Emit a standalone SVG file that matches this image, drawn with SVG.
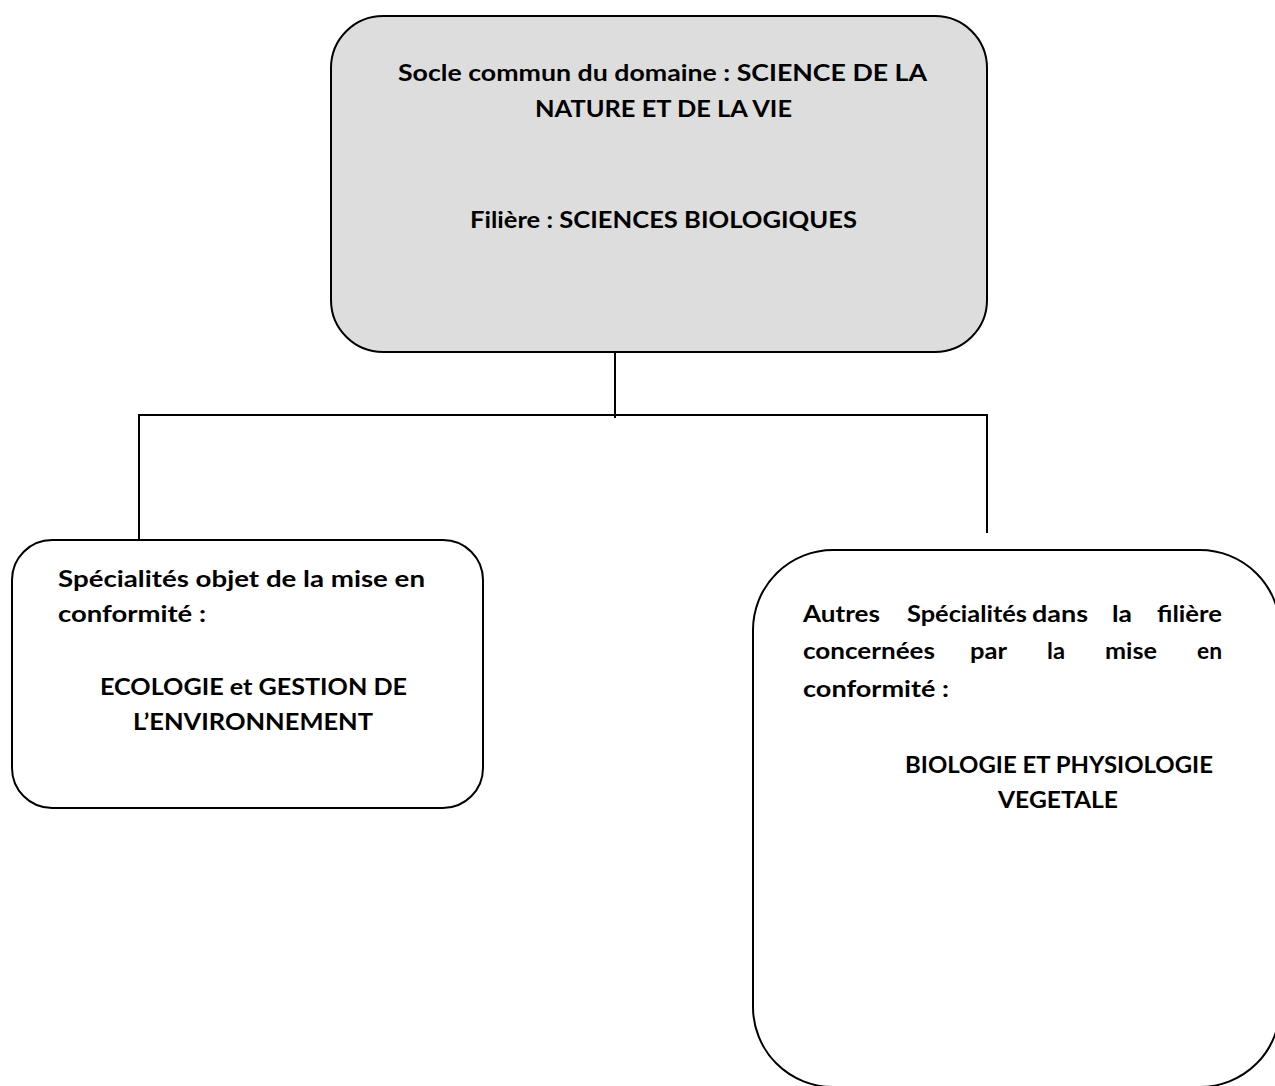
<svg xmlns="http://www.w3.org/2000/svg" width="1275" height="1086" viewBox="0 0 1275 1086">
<style>
.box{stroke:#000;stroke-width:2;}
.t{font-family:Lato,"Liberation Sans",sans-serif;font-weight:bold;font-size:22.5px;fill:#000;}
.ln{stroke:#000;stroke-width:2;fill:none;}
</style>
<rect width="1275" height="1086" fill="#fff"/>
<g id="connectors">
<line class="ln" x1="615" y1="353" x2="615" y2="418"/>
<line class="ln" x1="138" y1="415" x2="988" y2="415"/>
<line class="ln" x1="139" y1="414" x2="139" y2="545"/>
<line class="ln" x1="987" y1="414" x2="987" y2="533"/>
</g>
<g id="node-socle">
<rect class="box" x="331" y="16" width="656" height="336" rx="52" ry="52" fill="#dddddd"/>
<text class="t" x="398" y="81" textLength="529" lengthAdjust="spacingAndGlyphs">Socle commun du domaine : SCIENCE DE LA</text>
<text class="t" x="535" y="117" textLength="257" lengthAdjust="spacingAndGlyphs">NATURE ET DE LA VIE</text>
<text class="t" x="470" y="228" textLength="387" lengthAdjust="spacingAndGlyphs">Filière : SCIENCES BIOLOGIQUES</text>
</g>
<g id="node-ecologie">
<rect class="box" x="12" y="540" width="471" height="268" rx="40" ry="40" fill="#fff"/>
<text class="t" x="58" y="587" textLength="367" lengthAdjust="spacingAndGlyphs">Spécialités objet de la mise en</text>
<text class="t" x="58" y="622" textLength="148" lengthAdjust="spacingAndGlyphs">conformité :</text>
<text class="t" x="100" y="695" textLength="307" lengthAdjust="spacingAndGlyphs">ECOLOGIE et GESTION DE</text>
<text class="t" x="133" y="730" textLength="240" lengthAdjust="spacingAndGlyphs">L’ENVIRONNEMENT</text>
</g>
<g id="node-autres">
<rect class="box" x="753" y="550" width="527" height="537" rx="80" ry="80" fill="#fff"/>
<text class="t" x="803" y="622" textLength="77" lengthAdjust="spacingAndGlyphs">Autres</text>
<text class="t" x="907" y="622" textLength="120" lengthAdjust="spacingAndGlyphs">Spécialités</text>
<text class="t" x="1032" y="622" textLength="56" lengthAdjust="spacingAndGlyphs">dans</text>
<text class="t" x="1112" y="622" textLength="20" lengthAdjust="spacingAndGlyphs">la</text>
<text class="t" x="1157" y="622" textLength="65" lengthAdjust="spacingAndGlyphs">filière</text>
<text class="t" x="803" y="659" textLength="132" lengthAdjust="spacingAndGlyphs">concernées</text>
<text class="t" x="970" y="659" textLength="37" lengthAdjust="spacingAndGlyphs">par</text>
<text class="t" x="1047" y="659" textLength="18" lengthAdjust="spacingAndGlyphs">la</text>
<text class="t" x="1105" y="659" textLength="52" lengthAdjust="spacingAndGlyphs">mise</text>
<text class="t" x="1197" y="659" textLength="25" lengthAdjust="spacingAndGlyphs">en</text>
<text class="t" x="803" y="697" textLength="146" lengthAdjust="spacingAndGlyphs">conformité :</text>
<text class="t" x="905" y="773" textLength="308" lengthAdjust="spacingAndGlyphs">BIOLOGIE ET PHYSIOLOGIE</text>
<text class="t" x="998" y="808" textLength="120" lengthAdjust="spacingAndGlyphs">VEGETALE</text>
</g>
</svg>
